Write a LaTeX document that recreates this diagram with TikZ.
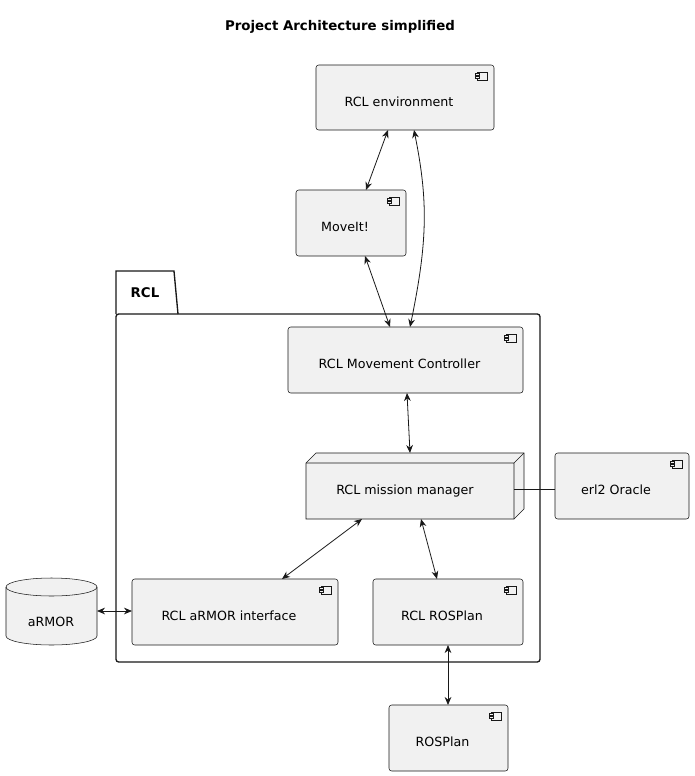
\documentclass[tikz,border=0pt]{standalone}
\usepackage{fontspec}
\setmainfont{DejaVu Sans}
\usetikzlibrary{arrows.meta}
\definecolor{bfill}{HTML}{F1F1F1}
\definecolor{bline}{HTML}{181818}
\begin{document}
\begin{tikzpicture}[x=0.75pt,y=-0.75pt,
  box/.style={draw=bline,fill=bfill,line width=0.4pt},
  lbl/.style={font=\fontsize{9.5}{12}\selectfont,text=black},
  arr/.style={{Stealth[length=6pt,width=5pt]}-{Stealth[length=6pt,width=5pt]},line width=0.6pt,draw=bline},
  comp/.pic={\draw[bline,fill=bfill,line width=0.3pt] (-10,0) rectangle (0,8);
    \draw[bline,fill=bfill,line width=0.3pt] (-12,1.5) rectangle (-8,3.5);
    \draw[bline,fill=bfill,line width=0.3pt] (-12,4.5) rectangle (-8,6.5);}]
\useasboundingbox (0,0) rectangle (694,776);
\node[font=\fontsize{10}{12}\selectfont\bfseries] (title) at (340,27) {Project Architecture simplified};
% package
\draw[bline,line width=1pt,fill=white] (116,314) -- (116,271) -- (174,271) -- (178,314);
\draw[bline,line width=1pt,rounded corners=2pt] (116,314) rectangle (540,662);
\node[lbl,font=\fontsize{10}{12}\selectfont\bfseries,anchor=west] (pk) at (126,293) {RCL};
% components
\newcommand{\comp}[6]{\draw[box,rounded corners=2pt] (#1,#2) rectangle (#3,#4);
  \pic at (#3-7,#2+7) {comp};
  \node[lbl] (#5) at ({(#1+#3)/2-6},{(#2+#4)/2+4}) {#6};
  \coordinate (#5c) at ({(#1+#3)/2},{(#2+#4)/2});}
\comp{316}{65}{494}{130}{env}{RCL environment}
\comp{296}{190}{406}{256}{mov}{MoveIt!}
\comp{288}{327}{523}{393}{mc}{RCL Movement Controller}
\comp{555}{453}{689}{519}{orc}{erl2 Oracle}
\comp{132}{579}{338}{645}{ai}{RCL aRMOR interface}
\comp{373}{579}{523}{645}{rp}{RCL ROSPlan}
\comp{389}{705}{508}{771}{ros}{ROSPlan}
% node 3D
\draw[box] (306,463) -- (316,453) -- (524,453) -- (524,509) -- (514,519) -- (306,519) -- cycle;
\draw[bline,line width=0.4pt] (306,463) -- (514,463) -- (524,453) (514,463) -- (514,519);
\node[lbl] (mm) at (405,491) {RCL mission manager};
% database
\draw[box] (6,587) -- (6,636) arc[start angle=180,end angle=0,x radius=45.5,y radius=9] -- (97,587) arc[start angle=0,end angle=-180,x radius=45.5,y radius=9];
\draw[bline,line width=0.4pt] (6,587) arc[start angle=180,end angle=0,x radius=45.5,y radius=9];
\node[lbl] (arm) at (51,622) {aRMOR};
% connectors
\coordinate (a1) at (388,130); \coordinate (a2) at (366,190);
\draw[arr] (a1) -- (a2);
\coordinate (b1) at (414,130); \coordinate (b2) at (410,327);
\draw[arr] (b1) .. controls (428,200) and (428,240) .. (b2);
\coordinate (c1) at (365,256); \coordinate (c2) at (390,327);
\draw[arr] (c1) -- (c2);
\coordinate (d1) at (407,393); \coordinate (d2) at (410,453);
\draw[arr] (d1) -- (d2);
\coordinate (e1) at (362,519); \coordinate (e2) at (282,579);
\draw[arr] (e1) -- (e2);
\coordinate (f1) at (421,519); \coordinate (f2) at (437,579);
\draw[arr] (f1) -- (f2);
\coordinate (g1) at (514,489); \coordinate (g2) at (555,489);
\draw[bline,line width=0.6pt] (g1) -- (g2);
\coordinate (h1) at (97,611); \coordinate (h2) at (132,611);
\draw[arr] (h1) -- (h2);
\coordinate (i1) at (448,645); \coordinate (i2) at (448,705);
\draw[arr] (i1) -- (i2);
\end{tikzpicture}
\end{document}
